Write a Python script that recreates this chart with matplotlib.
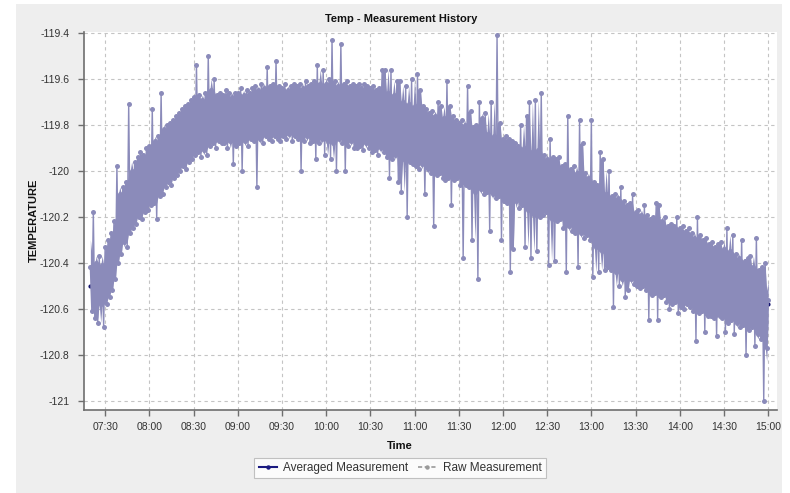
import pandas as pd
import matplotlib
matplotlib.use('Agg')
import matplotlib.pyplot as plt
import matplotlib.dates as mdates
from matplotlib.lines import Line2D
from matplotlib.patches import Rectangle

TITLE = 'Temp - Measurement History'
X_LABEL = 'Time'
Y_LABEL = 'TEMPERATURE'
LEGEND_LABELS = ['Averaged Measurement', 'Raw Measurement']

# raw readings, one per minute from 07:20 to 15:00 (one row = 10 minutes)
RAW_START = '2020-01-01 07:20'
raw_temp = [
    -120.42, -120.61, -120.18, -120.64, -120.40, -120.66, -120.37, -120.58, -120.41, -120.68,
    -120.33, -120.58, -120.30, -120.55, -120.27, -120.52, -120.22, -120.47, -119.98, -120.40,
    -120.10, -120.36, -120.07, -120.31, -120.05, -120.33, -119.71, -120.27, -120.00, -120.25,
    -119.96, -120.23, -119.94, -120.20, -119.92, -120.21, -119.93, -120.18, -119.90, -120.17,
    -119.89, -120.15, -119.73, -120.14, -119.87, -120.21, -119.85, -120.11, -119.66, -120.10,
    -119.82, -120.07, -119.80, -120.05, -119.79, -120.06, -119.78, -120.03, -119.76, -120.02,
    -119.75, -120.00, -119.73, -119.98, -119.72, -119.99, -119.71, -119.96, -119.69, -119.95,
    -119.68, -119.93, -119.54, -119.92, -119.67, -119.94, -119.69, -119.91, -119.66, -119.93,
    -119.50, -119.89, -119.65, -119.88, -119.60, -119.90, -119.67, -119.87, -119.66, -119.88,
    -119.67, -119.88, -119.65, -119.90, -119.66, -119.87, -119.68, -119.97, -119.66, -119.89,
    -119.66, -119.88, -119.64, -120.00, -119.67, -119.87, -119.65, -119.89, -119.66, -119.86,
    -119.64, -119.87, -119.63, -120.07, -119.65, -119.86, -119.62, -119.88, -119.64, -119.85,
    -119.55, -119.86, -119.63, -119.87, -119.62, -119.85, -119.52, -119.86, -119.63, -119.87,
    -119.64, -119.85, -119.62, -119.86, -119.65, -119.84, -119.63, -119.87, -119.62, -119.85,
    -119.63, -119.86, -119.62, -120.00, -119.64, -119.87, -119.61, -119.85, -119.63, -119.88,
    -119.62, -119.87, -119.61, -119.95, -119.54, -119.88, -119.62, -119.86, -119.56, -119.93,
    -119.62, -119.87, -119.60, -119.95, -119.43, -119.88, -119.61, -120.00, -119.63, -119.86,
    -119.45, -119.88, -119.62, -120.00, -119.61, -119.89, -119.63, -119.87, -119.62, -119.90,
    -119.63, -119.90, -119.62, -119.89, -119.64, -119.91, -119.62, -119.88, -119.63, -119.90,
    -119.64, -119.92, -119.63, -119.91, -119.65, -119.93, -119.64, -119.90, -119.56, -119.92,
    -119.56, -119.94, -119.66, -120.03, -119.56, -119.95, -119.67, -119.93, -119.61, -120.05,
    -119.61, -120.09, -119.70, -119.95, -119.63, -120.20, -119.71, -119.96, -119.60, -119.97,
    -119.72, -119.98, -119.58, -119.99, -119.65, -119.97, -119.72, -120.10, -119.73, -119.99,
    -119.75, -120.01, -119.74, -120.24, -119.76, -120.02, -119.70, -120.01, -119.72, -120.03,
    -119.77, -120.04, -119.61, -120.03, -119.72, -120.15, -119.76, -120.04, -119.78, -120.03,
    -119.79, -120.06, -119.78, -120.38, -119.80, -120.06, -119.63, -120.07, -119.74, -120.30,
    -119.81, -120.09, -119.80, -120.47, -119.70, -120.08, -119.77, -120.10, -119.75, -120.09,
    -119.84, -120.26, -119.70, -120.10, -119.85, -120.12, -119.41, -120.11, -119.79, -120.30,
    -119.86, -120.13, -119.85, -120.14, -119.86, -120.44, -119.87, -120.34, -119.88, -120.13,
    -119.89, -120.16, -119.80, -120.15, -119.90, -120.33, -119.76, -120.17, -119.70, -120.38,
    -119.92, -120.19, -119.69, -120.35, -119.91, -120.20, -119.66, -120.19, -119.93, -120.18,
    -119.95, -120.41, -119.86, -120.21, -119.94, -120.39, -119.95, -120.22, -119.94, -120.21,
    -119.98, -120.25, -119.97, -120.44, -119.76, -120.24, -119.99, -120.26, -119.98, -120.27,
    -120.01, -120.42, -119.78, -120.27, -119.88, -120.29, -120.01, -120.28, -120.03, -120.30,
    -119.78, -120.46, -120.05, -120.33, -120.06, -120.44, -119.92, -120.35, -119.95, -120.43,
    -120.10, -120.42, -120.00, -120.43, -120.11, -120.59, -120.10, -120.44, -120.12, -120.50,
    -120.07, -120.47, -120.13, -120.55, -120.15, -120.52, -120.14, -120.47, -120.10, -120.49,
    -120.18, -120.50, -120.17, -120.51, -120.19, -120.50, -120.15, -120.52, -120.19, -120.65,
    -120.21, -120.54, -120.20, -120.53, -120.14, -120.65, -120.15, -120.55, -120.22, -120.54,
    -120.20, -120.57, -120.24, -120.60, -120.23, -120.58, -120.24, -120.57, -120.20, -120.62,
    -120.25, -120.59, -120.24, -120.60, -120.26, -120.58, -120.25, -120.59, -120.27, -120.61,
    -120.29, -120.74, -120.20, -120.62, -120.28, -120.61, -120.30, -120.70, -120.29, -120.63,
    -120.32, -120.63, -120.31, -120.64, -120.33, -120.72, -120.32, -120.63, -120.31, -120.64,
    -120.34, -120.70, -120.25, -120.66, -120.35, -120.65, -120.28, -120.71, -120.36, -120.66,
    -120.38, -120.68, -120.30, -120.67, -120.39, -120.80, -120.38, -120.69, -120.37, -120.68,
    -120.42, -120.76, -120.29, -120.71, -120.43, -120.73, -120.42, -121.00, -120.40, -120.77,
    -120.56,
]

# averaged readings, every 10 minutes from 07:20 to 15:00
AVG_START = '2020-01-01 07:20'
avg_temp = [
    -120.50, -120.45, -120.22, -120.07, -120.01, -119.94, -119.87, -119.80, -119.77, -119.77,
    -119.77, -119.75, -119.75, -119.75, -119.75, -119.75, -119.75, -119.75, -119.76, -119.78,
    -119.80, -119.83, -119.85, -119.88, -119.90, -119.93, -119.95, -119.97, -120.00, -120.02,
    -120.05, -120.08, -120.11, -120.14, -120.19, -120.26, -120.31, -120.34, -120.37, -120.40,
    -120.42, -120.45, -120.47, -120.50, -120.53, -120.57, -120.58,
]

Y_TICKS = [-121, -120.8, -120.6, -120.4, -120.2, -120, -119.8, -119.6, -119.4]
Y_TICK_LABELS = ['-121', '-120.8', '-120.6', '-120.4', '-120.2', '-120', '-119.8', '-119.6', '-119.4']

RAW_COLOR = '#8b8bba'
AVG_COLOR = '#14146e'
TEXT_COLOR = '#333333'
FONT = ['Liberation Sans', 'DejaVu Sans']


def spread_band(values, window=5):
    # inner spread of the raw readings, ignores single outliers
    s = pd.Series(values)
    roll = s.rolling(window, center=True, min_periods=1)
    return roll.quantile(0.25).values, roll.quantile(0.75).values


def main():
    plt.rcParams['font.family'] = FONT

    raw_times = pd.date_range(RAW_START, periods=len(raw_temp), freq='1min')
    avg_times = pd.date_range(AVG_START, periods=len(avg_temp), freq='10min')

    fig = plt.figure(figsize=(7.9, 4.93), dpi=100)
    fig.patch.set_facecolor('white')
    fig.add_artist(Rectangle((16 / 790, 0), 766 / 790, 489 / 493,
                             transform=fig.transFigure, facecolor='#eeeeee',
                             edgecolor='none', zorder=-10))

    ax = fig.add_axes([84 / 790, 83 / 493, 693 / 790, 378 / 493])
    ax.set_facecolor('white')

    ax.plot(avg_times, avg_temp, color=AVG_COLOR, lw=1.0, marker='o', ms=2, zorder=2)

    lo, hi = spread_band(raw_temp)
    ax.fill_between(raw_times, lo, hi, color=RAW_COLOR, lw=0, zorder=3)
    ax.plot(raw_times, raw_temp, color=RAW_COLOR, lw=1.0, marker='o', ms=3.6,
            markeredgewidth=0, zorder=3)

    ax.set_xlim(pd.Timestamp('2020-01-01 07:15:40'), pd.Timestamp('2020-01-01 15:06:00'))
    ax.set_ylim(-121.04, -119.396)

    ax.xaxis.set_major_locator(mdates.MinuteLocator(byminute=[0, 30]))
    ax.xaxis.set_major_formatter(mdates.DateFormatter('%H:%M'))
    ax.set_yticks(Y_TICKS)
    ax.set_yticklabels(Y_TICK_LABELS)

    ax.grid(True, color='#c4c4c4', linestyle=(0, (3, 3)), linewidth=0.8)
    ax.set_axisbelow(True)

    for side in ['top', 'right']:
        ax.spines[side].set_visible(False)
    for side in ['left', 'bottom']:
        ax.spines[side].set_color('#6e6e6e')
        ax.spines[side].set_linewidth(1.2)

    ax.tick_params(axis='x', direction='out', length=4.5, width=1, color='#6e6e6e',
                   labelsize=7.5, labelcolor=TEXT_COLOR, pad=4)
    ax.tick_params(axis='y', direction='out', length=4.5, width=1, color='#6e6e6e',
                   labelsize=7.5, labelcolor=TEXT_COLOR, pad=6)

    fig.text(401 / 790, 1 - 19 / 493, TITLE, ha='center', va='center',
             fontsize=8, fontweight='bold', color='#111111')
    fig.text(400 / 790, 1 - 446 / 493, X_LABEL, ha='center', va='center',
             fontsize=8, fontweight='bold', color='#111111')
    fig.text(33.5 / 790, 1 - 220 / 493, Y_LABEL, ha='center', va='center',
             rotation=90, fontsize=8, fontweight='bold', color='#111111')

    handles = [
        Line2D([], [], color='#1a1a80', lw=1.5, marker='o', ms=2.2),
        Line2D([], [], color='#999999', lw=1.2, linestyle=(0, (2.5, 1.5)), marker='o', ms=2.2),
    ]
    leg = fig.legend(handles, LEGEND_LABELS, loc='center', ncol=2,
                     bbox_to_anchor=(400 / 790, 1 - 468 / 493), fontsize=8.5,
                     frameon=True, fancybox=False, edgecolor='#b4b4b4',
                     handlelength=1.6, handletextpad=0.5, columnspacing=0.8,
                     borderpad=0.35)
    leg.get_frame().set_linewidth(0.8)
    for text in leg.get_texts():
        text.set_color(TEXT_COLOR)

    fig.savefig('out.png', dpi=100, facecolor=fig.get_facecolor())


if __name__ == '__main__':
    main()
